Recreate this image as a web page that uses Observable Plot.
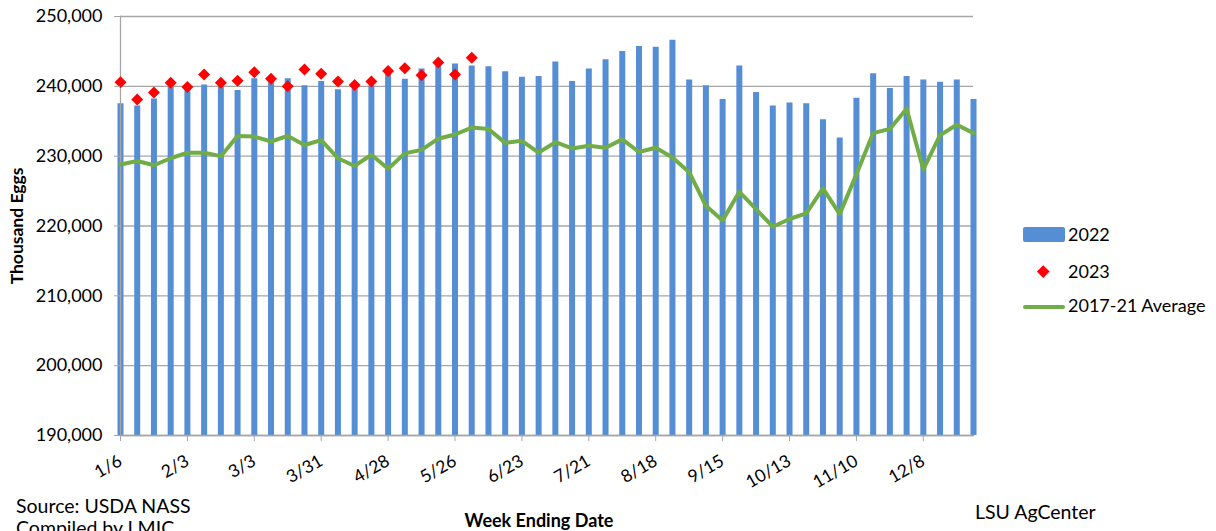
<!DOCTYPE html>
<html>
<head>
<meta charset="utf-8">
<script src="https://cdn.jsdelivr.net/npm/d3@7"></script>
<script src="https://cdn.jsdelivr.net/npm/@observablehq/plot@0.6"></script>
<style>
  html, body { margin: 0; padding: 0; background: #fff; }
  #wrap { position: relative; width: 1216px; height: 531px; overflow: hidden; font-family: Lato, "Open Sans", sans-serif; color: #000; }
  #chart svg { display: block; }
  g[aria-label="y-axis label"] text, g[aria-label="x-axis label"] text { font-weight: bold; }
  .ov { position: absolute; white-space: nowrap; font-size: 19.5px; line-height: 1; }
  .legend { position: absolute; left: 1023px; top: 224px; font-size: 18px; line-height: 1; }
  .lrow { position: absolute; left: 0; height: 20px; width: 200px; }
  .lrow span.t { position: absolute; left: 45px; top: 1px; white-space: nowrap; }
</style>
</head>
<body>
<div id="wrap">
  <div id="chart"></div>
  <div class="ov" style="left:16px; top:496px;">Source: USDA NASS</div>
  <div class="ov" style="left:16px; top:518px;">Compiled by LMIC</div>
  <div class="ov" style="left:975px; top:502px;">LSU AgCenter</div>
  <div class="legend" id="legend"></div>
</div>
<script>
const weeks = ["1/6","1/13","1/20","1/27","2/3","2/10","2/17","2/24","3/3","3/10","3/17","3/24","3/31","4/7","4/14","4/21","4/28","5/5","5/12","5/19","5/26","6/2","6/9","6/16","6/23","6/30","7/7","7/14","7/21","7/28","8/4","8/11","8/18","8/25","9/1","9/8","9/15","9/22","9/29","10/6","10/13","10/20","10/27","11/3","11/10","11/17","11/24","12/1","12/8","12/15","12/22","12/29"];

const eggs2022 = [237500,237200,238200,239900,239500,240200,239900,239400,241100,240500,
  241100,240100,240700,239500,239700,240100,241800,241000,242500,242900,
  243200,242900,242800,242100,241300,241400,243500,240700,242500,243800,
  245000,245700,245600,246600,240900,240100,238100,242900,239100,237200,
  237600,237500,235200,232600,238300,241800,239700,241400,240900,240600,
  240900,238100];

const eggs2023 = [240600,238100,239100,240500,239900,241700,240500,240800,242000,241100,
  240000,242400,241800,240700,240200,240700,242200,242600,241600,243400,
  241700,244100];

const avg1721 = [228800,229300,228700,229700,230500,230500,230000,232900,232800,232100,
  232900,231600,232300,229700,228600,230200,228200,230400,230900,232500,
  233100,234100,233900,231900,232200,230500,232000,231100,231500,231200,
  232400,230600,231200,229800,227700,222900,220800,224900,222400,219900,
  221000,221800,225400,221700,227400,233300,233900,236800,228100,233000,
  234500,233300];

const xTickLabels = ["1/6","2/3","3/3","3/31","4/28","5/26","6/23","7/21","8/18","9/15","10/13","11/10","12/8"];
const yTicks = [190000,200000,210000,220000,230000,240000,250000];

const seriesNames = ["2022","2023","2017-21 Average"];
const seriesColors = ["#558ED5","#FF0000","#70AD47"];

const rows = weeks.map((w, i) => ({week: w, v2022: eggs2022[i], avg: avg1721[i]}));
const rows23 = eggs2023.map((v, i) => ({week: weeks[i], v}));

const grey = "#A6A6A6";
const chart = Plot.plot({
  width: 1216,
  height: 531,
  marginLeft: 120,
  marginRight: 243,
  marginTop: 16,
  marginBottom: 96,
  style: {fontFamily: "Lato, 'Open Sans', sans-serif", fontSize: "18px", color: "#000", background: "#fff", overflow: "visible"},
  x: {type: "point", domain: weeks, padding: 0},
  y: {domain: [190000, 250000]},
  marks: [
    Plot.gridY(yTicks, {stroke: grey, strokeOpacity: 1, strokeWidth: 1.3}),
    Plot.ruleX(rows, {x: "week", y1: 190000, y2: "v2022", stroke: seriesColors[0], strokeWidth: 6}),
    Plot.frame({anchor: "left", stroke: grey, strokeWidth: 1.3}),
    Plot.frame({anchor: "bottom", stroke: grey, strokeWidth: 1.3}),
    Plot.lineY(rows, {x: "week", y: "avg", stroke: seriesColors[2], strokeWidth: 4, strokeLinejoin: "round"}),
    Plot.dot(rows23, {x: "week", y: "v", symbol: "diamond2", r: 5.4, fill: seriesColors[1], stroke: "none"}),
    Plot.axisY({ticks: yTicks, tickFormat: d3.format(","), tickSize: 6, tickPadding: 12, stroke: grey,
      fontSize: 18, label: "Thousand Eggs", labelAnchor: "center", labelArrow: "none", labelOffset: 110}),
    Plot.axisX({ticks: xTickLabels, tickSize: 6, tickPadding: 18, tickRotate: -30, stroke: grey,
      fontSize: 17.5, label: "Week Ending Date", labelAnchor: "center", labelArrow: "none", labelOffset: 91})
  ]
});
document.getElementById("chart").appendChild(chart);

// axis title sizes
chart.querySelectorAll('g[aria-label="y-axis label"] text').forEach(t => t.setAttribute("font-size", 17.5));
chart.querySelectorAll('g[aria-label="x-axis label"] text').forEach(t => { t.setAttribute("font-size", 18); t.setAttribute("dx", -8); });

// Legend (HTML)
const legend = document.getElementById("legend");
const rowTops = [0, 37, 71];
seriesNames.forEach((name, i) => {
  const r = document.createElement("div");
  r.className = "lrow";
  r.style.top = rowTops[i] + "px";
  let sw = "";
  if (i === 0) sw = `<span style="position:absolute;left:0;top:3px;width:42px;height:15px;background:${seriesColors[0]};border-radius:2px"></span>`;
  if (i === 1) sw = `<span style="position:absolute;left:16px;top:6px;width:8.5px;height:8.5px;background:${seriesColors[1]};transform:rotate(45deg)"></span>`;
  if (i === 2) sw = `<span style="position:absolute;left:0;top:10px;width:42px;height:4px;background:${seriesColors[2]};border-radius:2px"></span>`;
  r.innerHTML = sw + `<span class="t">${name}</span>`;
  legend.appendChild(r);
});
</script>
</body>
</html>
